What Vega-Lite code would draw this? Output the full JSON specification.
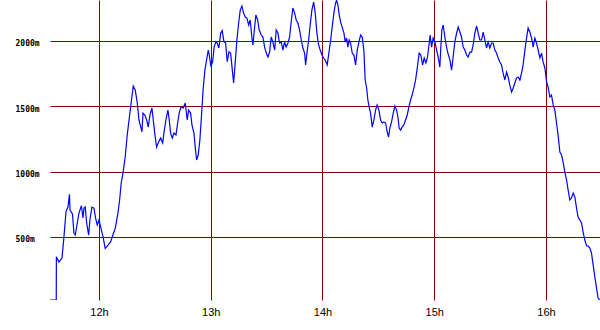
{
  "$schema": "https://vega.github.io/schema/vega-lite/v6.json",
  "width": 550,
  "height": 300,
  "autosize": {"type": "none"},
  "padding": {"left": 50, "top": 0, "right": 0, "bottom": 30},
  "background": "white",
  "config": {"view": {"stroke": null}},
  "data": {"values": [
    {"t": 11.562, "alt": 18}, {"t": 11.618, "alt": 18}, {"t": 11.619, "alt": 349}, {"t": 11.642, "alt": 308}, {"t": 11.669, "alt": 339},
    {"t": 11.687, "alt": 502}, {"t": 11.705, "alt": 693}, {"t": 11.723, "alt": 731}, {"t": 11.736, "alt": 826}, {"t": 11.741, "alt": 706},
    {"t": 11.763, "alt": 676}, {"t": 11.776, "alt": 530}, {"t": 11.788, "alt": 515}, {"t": 11.806, "alt": 607}, {"t": 11.821, "alt": 683},
    {"t": 11.843, "alt": 739}, {"t": 11.857, "alt": 645}, {"t": 11.866, "alt": 721}, {"t": 11.877, "alt": 729}, {"t": 11.890, "alt": 607},
    {"t": 11.908, "alt": 515}, {"t": 11.919, "alt": 630}, {"t": 11.937, "alt": 729}, {"t": 11.955, "alt": 721}, {"t": 11.970, "alt": 645},
    {"t": 11.985, "alt": 591}, {"t": 12.000, "alt": 630}, {"t": 12.015, "alt": 578}, {"t": 12.036, "alt": 502}, {"t": 12.056, "alt": 413},
    {"t": 12.081, "alt": 438}, {"t": 12.105, "alt": 464}, {"t": 12.125, "alt": 515}, {"t": 12.146, "alt": 568}, {"t": 12.170, "alt": 683},
    {"t": 12.185, "alt": 783}, {"t": 12.199, "alt": 913}, {"t": 12.215, "alt": 989}, {"t": 12.235, "alt": 1114}, {"t": 12.253, "alt": 1280},
    {"t": 12.271, "alt": 1408}, {"t": 12.289, "alt": 1535}, {"t": 12.307, "alt": 1655}, {"t": 12.325, "alt": 1624}, {"t": 12.343, "alt": 1523},
    {"t": 12.358, "alt": 1395}, {"t": 12.373, "alt": 1344}, {"t": 12.385, "alt": 1305}, {"t": 12.394, "alt": 1448}, {"t": 12.411, "alt": 1433},
    {"t": 12.427, "alt": 1395}, {"t": 12.441, "alt": 1341}, {"t": 12.456, "alt": 1433}, {"t": 12.474, "alt": 1487}, {"t": 12.486, "alt": 1395},
    {"t": 12.501, "alt": 1280}, {"t": 12.516, "alt": 1188}, {"t": 12.530, "alt": 1219}, {"t": 12.552, "alt": 1257}, {"t": 12.570, "alt": 1219},
    {"t": 12.581, "alt": 1295}, {"t": 12.599, "alt": 1395}, {"t": 12.617, "alt": 1471}, {"t": 12.629, "alt": 1395}, {"t": 12.641, "alt": 1295},
    {"t": 12.656, "alt": 1257}, {"t": 12.671, "alt": 1295}, {"t": 12.689, "alt": 1280}, {"t": 12.704, "alt": 1372}, {"t": 12.718, "alt": 1448},
    {"t": 12.733, "alt": 1494}, {"t": 12.754, "alt": 1487}, {"t": 12.772, "alt": 1525}, {"t": 12.790, "alt": 1395}, {"t": 12.802, "alt": 1471},
    {"t": 12.820, "alt": 1448}, {"t": 12.832, "alt": 1357}, {"t": 12.850, "alt": 1295}, {"t": 12.861, "alt": 1188}, {"t": 12.874, "alt": 1089},
    {"t": 12.888, "alt": 1127}, {"t": 12.903, "alt": 1242}, {"t": 12.919, "alt": 1448}, {"t": 12.933, "alt": 1640}, {"t": 12.948, "alt": 1777},
    {"t": 12.963, "alt": 1854}, {"t": 12.978, "alt": 1930}, {"t": 12.987, "alt": 1892}, {"t": 13.002, "alt": 1803}, {"t": 13.017, "alt": 1841},
    {"t": 13.031, "alt": 1956}, {"t": 13.047, "alt": 1994}, {"t": 13.058, "alt": 1984}, {"t": 13.073, "alt": 1946}, {"t": 13.089, "alt": 2060},
    {"t": 13.103, "alt": 2078}, {"t": 13.118, "alt": 1994}, {"t": 13.133, "alt": 1984}, {"t": 13.148, "alt": 1841}, {"t": 13.163, "alt": 1917},
    {"t": 13.178, "alt": 1907}, {"t": 13.196, "alt": 1754}, {"t": 13.205, "alt": 1678}, {"t": 13.219, "alt": 1831}, {"t": 13.234, "alt": 2007},
    {"t": 13.250, "alt": 2137}, {"t": 13.264, "alt": 2236}, {"t": 13.279, "alt": 2267}, {"t": 13.294, "alt": 2213}, {"t": 13.309, "alt": 2183},
    {"t": 13.324, "alt": 2175}, {"t": 13.339, "alt": 2122}, {"t": 13.353, "alt": 2160}, {"t": 13.369, "alt": 2022}, {"t": 13.378, "alt": 1969},
    {"t": 13.393, "alt": 2106}, {"t": 13.404, "alt": 2198}, {"t": 13.420, "alt": 2160}, {"t": 13.434, "alt": 2083}, {"t": 13.452, "alt": 2045},
    {"t": 13.467, "alt": 2030}, {"t": 13.482, "alt": 1953}, {"t": 13.497, "alt": 1907}, {"t": 13.512, "alt": 1877}, {"t": 13.527, "alt": 1915},
    {"t": 13.541, "alt": 2030}, {"t": 13.556, "alt": 1992}, {"t": 13.572, "alt": 1930}, {"t": 13.586, "alt": 2083}, {"t": 13.601, "alt": 2060},
    {"t": 13.616, "alt": 1984}, {"t": 13.631, "alt": 1992}, {"t": 13.646, "alt": 1930}, {"t": 13.661, "alt": 1992}, {"t": 13.675, "alt": 1953},
    {"t": 13.691, "alt": 1984}, {"t": 13.706, "alt": 2030}, {"t": 13.720, "alt": 2145}, {"t": 13.735, "alt": 2252}, {"t": 13.751, "alt": 2213},
    {"t": 13.765, "alt": 2160}, {"t": 13.780, "alt": 2137}, {"t": 13.795, "alt": 2083}, {"t": 13.810, "alt": 2007}, {"t": 13.825, "alt": 1946},
    {"t": 13.840, "alt": 1907}, {"t": 13.849, "alt": 1816}, {"t": 13.861, "alt": 1907}, {"t": 13.876, "alt": 2007}, {"t": 13.890, "alt": 2122},
    {"t": 13.905, "alt": 2236}, {"t": 13.921, "alt": 2298}, {"t": 13.935, "alt": 2213}, {"t": 13.950, "alt": 2060}, {"t": 13.965, "alt": 1969},
    {"t": 13.980, "alt": 1930}, {"t": 13.995, "alt": 1892}, {"t": 14.010, "alt": 1869}, {"t": 14.024, "alt": 1854}, {"t": 14.042, "alt": 1816},
    {"t": 14.057, "alt": 1907}, {"t": 14.073, "alt": 2007}, {"t": 14.087, "alt": 2106}, {"t": 14.102, "alt": 2213}, {"t": 14.117, "alt": 2290},
    {"t": 14.126, "alt": 2309}, {"t": 14.138, "alt": 2275}, {"t": 14.150, "alt": 2198}, {"t": 14.162, "alt": 2145}, {"t": 14.176, "alt": 2106},
    {"t": 14.192, "alt": 2060}, {"t": 14.203, "alt": 1992}, {"t": 14.216, "alt": 2022}, {"t": 14.227, "alt": 1953}, {"t": 14.239, "alt": 2007},
    {"t": 14.251, "alt": 1984}, {"t": 14.266, "alt": 1907}, {"t": 14.281, "alt": 1892}, {"t": 14.296, "alt": 1816}, {"t": 14.311, "alt": 1930},
    {"t": 14.326, "alt": 1992}, {"t": 14.341, "alt": 2045}, {"t": 14.355, "alt": 2030}, {"t": 14.370, "alt": 1930}, {"t": 14.382, "alt": 1701},
    {"t": 14.395, "alt": 1640}, {"t": 14.406, "alt": 1548}, {"t": 14.418, "alt": 1494}, {"t": 14.430, "alt": 1448}, {"t": 14.445, "alt": 1341},
    {"t": 14.460, "alt": 1395}, {"t": 14.475, "alt": 1471}, {"t": 14.489, "alt": 1510}, {"t": 14.505, "alt": 1471}, {"t": 14.520, "alt": 1395},
    {"t": 14.534, "alt": 1372}, {"t": 14.549, "alt": 1380}, {"t": 14.565, "alt": 1372}, {"t": 14.579, "alt": 1303}, {"t": 14.591, "alt": 1265},
    {"t": 14.603, "alt": 1334}, {"t": 14.618, "alt": 1380}, {"t": 14.633, "alt": 1448}, {"t": 14.648, "alt": 1502}, {"t": 14.663, "alt": 1471},
    {"t": 14.675, "alt": 1418}, {"t": 14.686, "alt": 1334}, {"t": 14.699, "alt": 1318}, {"t": 14.713, "alt": 1341}, {"t": 14.728, "alt": 1357},
    {"t": 14.743, "alt": 1395}, {"t": 14.758, "alt": 1433}, {"t": 14.773, "alt": 1494}, {"t": 14.788, "alt": 1548}, {"t": 14.802, "alt": 1586},
    {"t": 14.818, "alt": 1640}, {"t": 14.833, "alt": 1701}, {"t": 14.849, "alt": 1800}, {"t": 14.865, "alt": 1907}, {"t": 14.880, "alt": 1892},
    {"t": 14.896, "alt": 1816}, {"t": 14.910, "alt": 1869}, {"t": 14.925, "alt": 1831}, {"t": 14.940, "alt": 1877}, {"t": 14.955, "alt": 1984},
    {"t": 14.963, "alt": 2045}, {"t": 14.976, "alt": 1953}, {"t": 14.990, "alt": 2022}, {"t": 15.006, "alt": 1992}, {"t": 15.021, "alt": 1930},
    {"t": 15.035, "alt": 1877}, {"t": 15.050, "alt": 1800}, {"t": 15.059, "alt": 1953}, {"t": 15.068, "alt": 2083}, {"t": 15.080, "alt": 2122},
    {"t": 15.095, "alt": 2030}, {"t": 15.110, "alt": 1953}, {"t": 15.122, "alt": 1907}, {"t": 15.140, "alt": 1854}, {"t": 15.155, "alt": 1777},
    {"t": 15.169, "alt": 1877}, {"t": 15.184, "alt": 1992}, {"t": 15.200, "alt": 2060}, {"t": 15.214, "alt": 2106}, {"t": 15.229, "alt": 2068},
    {"t": 15.244, "alt": 2030}, {"t": 15.259, "alt": 1953}, {"t": 15.274, "alt": 1930}, {"t": 15.289, "alt": 1892}, {"t": 15.303, "alt": 1877},
    {"t": 15.319, "alt": 1915}, {"t": 15.334, "alt": 1915}, {"t": 15.348, "alt": 1969}, {"t": 15.363, "alt": 2060}, {"t": 15.379, "alt": 2114},
    {"t": 15.393, "alt": 2060}, {"t": 15.408, "alt": 2007}, {"t": 15.423, "alt": 2007}, {"t": 15.438, "alt": 2068}, {"t": 15.453, "alt": 2007},
    {"t": 15.468, "alt": 1946}, {"t": 15.482, "alt": 1992}, {"t": 15.497, "alt": 1946}, {"t": 15.513, "alt": 1984}, {"t": 15.527, "alt": 1984},
    {"t": 15.542, "alt": 1930}, {"t": 15.557, "alt": 1907}, {"t": 15.572, "alt": 1869}, {"t": 15.587, "alt": 1839}, {"t": 15.602, "alt": 1816},
    {"t": 15.616, "alt": 1754}, {"t": 15.632, "alt": 1701}, {"t": 15.647, "alt": 1762}, {"t": 15.661, "alt": 1724}, {"t": 15.676, "alt": 1663},
    {"t": 15.692, "alt": 1609}, {"t": 15.706, "alt": 1640}, {"t": 15.721, "alt": 1678}, {"t": 15.736, "alt": 1716}, {"t": 15.751, "alt": 1724},
    {"t": 15.766, "alt": 1701}, {"t": 15.781, "alt": 1754}, {"t": 15.795, "alt": 1816}, {"t": 15.811, "alt": 1930}, {"t": 15.826, "alt": 2022},
    {"t": 15.840, "alt": 2099}, {"t": 15.855, "alt": 2068}, {"t": 15.871, "alt": 2022}, {"t": 15.885, "alt": 1953}, {"t": 15.900, "alt": 2022},
    {"t": 15.915, "alt": 1984}, {"t": 15.930, "alt": 1930}, {"t": 15.945, "alt": 1869}, {"t": 15.960, "alt": 1907}, {"t": 15.974, "alt": 1839},
    {"t": 15.990, "alt": 1793}, {"t": 16.005, "alt": 1686}, {"t": 16.019, "alt": 1647}, {"t": 16.034, "alt": 1571}, {"t": 16.049, "alt": 1586},
    {"t": 16.064, "alt": 1510}, {"t": 16.079, "alt": 1471}, {"t": 16.094, "alt": 1372}, {"t": 16.108, "alt": 1280}, {"t": 16.124, "alt": 1150},
    {"t": 16.139, "alt": 1127}, {"t": 16.153, "alt": 1073}, {"t": 16.168, "alt": 997}, {"t": 16.184, "alt": 936}, {"t": 16.198, "alt": 859},
    {"t": 16.213, "alt": 783}, {"t": 16.228, "alt": 798}, {"t": 16.243, "alt": 836}, {"t": 16.258, "alt": 806}, {"t": 16.273, "alt": 721},
    {"t": 16.287, "alt": 653}, {"t": 16.302, "alt": 630}, {"t": 16.318, "alt": 607}, {"t": 16.332, "alt": 538}, {"t": 16.347, "alt": 477},
    {"t": 16.363, "alt": 431}, {"t": 16.377, "alt": 431}, {"t": 16.392, "alt": 415}, {"t": 16.407, "alt": 377}, {"t": 16.422, "alt": 285},
    {"t": 16.437, "alt": 194}, {"t": 16.452, "alt": 109}, {"t": 16.466, "alt": 33}, {"t": 16.481, "alt": 18}
  ]},
  "mark": {"type": "line", "color": "#0000ff", "strokeWidth": 1.2, "interpolate": "linear", "clip": true},
  "encoding": {
    "x": {
      "field": "t", "type": "quantitative",
      "scale": {"domain": [11.562, 16.483], "nice": false, "zero": false},
      "axis": {
        "title": null, "values": [12, 13, 14, 15, 16],
        "labelExpr": "datum.value + 'h'",
        "domain": false, "ticks": false,
        "grid": true, "gridColor": "#800000", "gridOpacity": 1, "gridWidth": 1,
        "labelFont": "Liberation Sans", "labelFontSize": 11, "labelColor": "#000000",
        "labelPadding": 6, "labelAlign": "center"
      }
    },
    "y": {
      "field": "alt", "type": "quantitative",
      "scale": {"domain": [18, 2313], "nice": false, "zero": false},
      "axis": {
        "title": null, "values": [500, 1000, 1500, 2000],
        "labelExpr": "datum.value + 'm'",
        "domain": false, "ticks": false,
        "grid": true, "gridColor": "#800000", "gridOpacity": 1, "gridWidth": 1,
        "labelFont": "DejaVu Sans Mono", "labelFontSize": 8, "labelFontWeight": "bold",
        "labelColor": "#000000", "labelAlign": "left", "labelPadding": 35,
        "labelBaseline": "middle", "labelOffset": 3
      }
    }
  }
}
